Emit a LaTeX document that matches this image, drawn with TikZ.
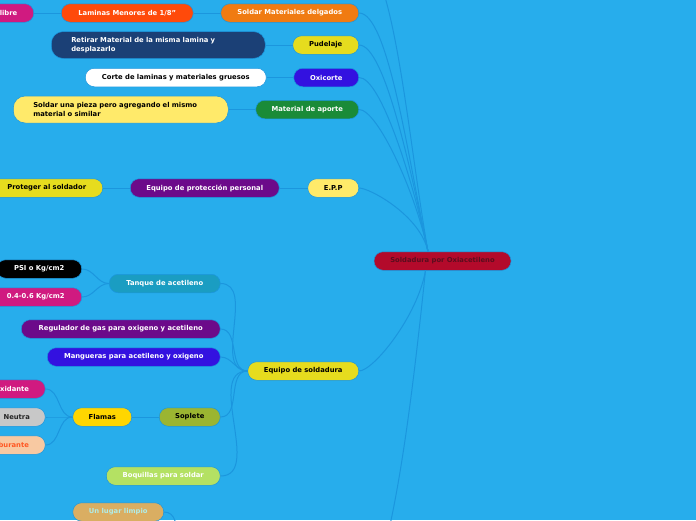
\documentclass[tikz,border=0pt]{standalone}
\usepackage{fontspec}
\setmainfont{DejaVu Sans}
\usetikzlibrary{positioning}

\definecolor{bgblue}{RGB}{39,173,236}
\definecolor{linkblue}{RGB}{27,150,222}
\definecolor{rootred}{RGB}{179,10,43}
\definecolor{rootdark}{RGB}{90,14,30}
\definecolor{orangeA}{RGB}{240,123,18}
\definecolor{redorange}{RGB}{255,74,10}
\definecolor{magentaA}{RGB}{208,26,128}
\definecolor{yellowA}{RGB}{230,220,30}
\definecolor{yellowB}{RGB}{255,234,106}
\definecolor{navyA}{RGB}{27,64,118}
\definecolor{violetA}{RGB}{51,17,224}
\definecolor{greenA}{RGB}{26,139,56}
\definecolor{purpleA}{RGB}{108,10,138}
\definecolor{tealA}{RGB}{26,157,194}
\definecolor{oliveA}{RGB}{155,181,49}
\definecolor{goldA}{RGB}{255,214,0}
\definecolor{greyA}{RGB}{200,200,200}
\definecolor{peachA}{RGB}{248,201,162}
\definecolor{peachtext}{RGB}{255,87,34}
\definecolor{limeA}{RGB}{180,225,99}
\definecolor{tanA}{RGB}{218,174,98}
\definecolor{aquatext}{RGB}{176,236,230}

\tikzset{
  box/.style={rounded corners=9pt, minimum height=18.5pt, inner sep=0pt,
    draw=linkblue, line width=0.5pt, text=white,
    font=\fontsize{6.8}{8.6}\selectfont\bfseries},
  widebox/.style={box, rounded corners=12pt, align=left, inner xsep=20pt,
    text width=#1, minimum height=27pt},
  link/.style={draw=linkblue, line width=1pt},
}

\begin{document}
\begin{tikzpicture}[x=1pt, y=-1pt]
  \fill[bgblue] (0,0) rectangle (696,520);
  \useasboundingbox (0,0) rectangle (696,520);
  \clip (0,0) rectangle (696,520);

  % centro
  \node[box, fill=rootred, text=rootdark, minimum width=137pt] (root) at (442.5,261) {Soldadura por Oxiacetileno};
  \coordinate (rootin) at ([xshift=-14.5pt]root.north);
  \coordinate (rootout) at ([xshift=-17pt]root.south);

  % primer nivel
  \node[box, fill=orangeA, minimum width=138pt, anchor=east] (delgados) at (359,13) {Soldar Materiales delgados};
  \node[box, fill=yellowA, text=black, minimum width=66pt, anchor=east] (pudelaje) at (359,45) {Pudelaje};
  \node[box, fill=violetA, minimum width=65pt, anchor=east] (oxicorte) at (359,77.5) {Oxicorte};
  \node[box, fill=greenA, minimum width=103pt, anchor=east] (aporte) at (359,109.5) {Material de aporte};
  \node[box, fill=yellowB, text=black, minimum width=51pt, anchor=east] (epp) at (359,188) {E.P.P};
  \node[box, fill=yellowA, text=black, minimum width=111pt, anchor=east] (equipo) at (359,371) {Equipo de soldadura};
  \coordinate (offhigh) at (358,-45);
  \coordinate (offlow) at (345,620);

  % segundo nivel
  \node[box, fill=redorange, minimum width=132pt, left=27pt of delgados] (laminas) {Laminas Menores de 1/8"};
  \node[box, fill=magentaA, minimum width=60pt, left=27pt of laminas] (calibre) {Calibre};
  \node[widebox=174pt, fill=navyA, left=27pt of pudelaje] (retirar) {Retirar Material de la misma lamina y\\desplazarlo};
  \node[box, fill=white, text=black, minimum width=181pt, left=27pt of oxicorte] (corte) {Corte de laminas y materiales gruesos};
  \node[widebox=175pt, fill=yellowB, text=black, left=27pt of aporte] (pieza) {Soldar una pieza pero agregando el mismo\\material o similar};
  \node[box, fill=purpleA, minimum width=149pt, left=28pt of epp] (proteccion) {Equipo de protección personal};
  \node[box, fill=yellowA, text=black, minimum width=112pt, left=27pt of proteccion] (proteger) {Proteger al soldador};

  % equipo de soldadura
  \node[box, fill=tealA, minimum width=111pt, left=27pt of equipo, yshift=87.5pt] (tanque) {Tanque de acetileno};
  \node[box, fill=black, minimum width=85pt, left=27pt of tanque, yshift=14.5pt] (psi) {PSI o Kg/cm2};
  \node[box, fill=magentaA, minimum width=92pt, left=27pt of tanque, yshift=-13.5pt] (presion) {0.4-0.6 Kg/cm2};
  \node[box, fill=purpleA, minimum width=199pt, left=27pt of equipo, yshift=42pt] (regulador) {Regulador de gas para oxigeno y acetileno};
  \node[box, fill=violetA, minimum width=173pt, left=27pt of equipo, yshift=14pt] (mangueras) {Mangueras para acetileno y oxigeno};
  \node[box, fill=oliveA, text=black, minimum width=61pt, left=27pt of equipo, yshift=-46pt] (soplete) {Soplete};
  \node[box, fill=goldA, text=black, minimum width=59pt, left=27pt of soplete] (flamas) {Flamas};
  \node[box, fill=magentaA, minimum width=67pt, left=27pt of flamas, yshift=28pt] (oxidante) {Oxidante};
  \node[box, fill=greyA, text=black!85, minimum width=57pt, left=27pt of flamas] (neutra) {Neutra};
  \node[box, fill=peachA, text=peachtext, minimum width=76pt, left=27pt of flamas, yshift=-28pt] (carburante) {Carburante};
  \node[box, fill=limeA, minimum width=114pt, left=27pt of equipo, yshift=-105pt] (boquillas) {Boquillas para soldar};

  \node[box, fill=tanA, text=aquatext, minimum width=91pt, anchor=east] (lugar) at (164,512) {Un lugar limpio};
  \coordinate (lugarup) at (191,566);

  % conectores
  \foreach \k in {delgados,pudelaje,oxicorte,aporte,epp}
    \draw[link] (\k.east) to[out=0, in=102, out looseness=0.3] (rootin);
  \draw[link] (offhigh) to[out=0, in=100, out looseness=0.3] (rootin);
  \draw[link] (equipo.east) to[out=0, in=-100, out looseness=0.3] (rootout);
  \draw[link] (offlow) to[out=0, in=-96, out looseness=0.3] (rootout);

  \draw[link] (calibre.east) -- (laminas.west);
  \draw[link] (laminas.east) -- (delgados.west);
  \draw[link] (retirar.east) -- (pudelaje.west);
  \draw[link] (corte.east) -- (oxicorte.west);
  \draw[link] (pieza.east) -- (aporte.west);
  \draw[link] (proteger.east) -- (proteccion.west);
  \draw[link] (proteccion.east) -- (epp.west);

  \foreach \k in {tanque,regulador,mangueras,soplete,boquillas}
    \draw[link] (\k.east) to[out=0, in=180] (equipo.west);
  \foreach \k in {psi,presion}
    \draw[link] (\k.east) to[out=0, in=180] (tanque.west);
  \draw[link] (flamas.east) -- (soplete.west);
  \foreach \k in {oxidante,neutra,carburante}
    \draw[link] (\k.east) to[out=0, in=180] (flamas.west);
  \draw[link] (lugar.east) to[out=0, in=180] (lugarup);
\end{tikzpicture}
\end{document}
